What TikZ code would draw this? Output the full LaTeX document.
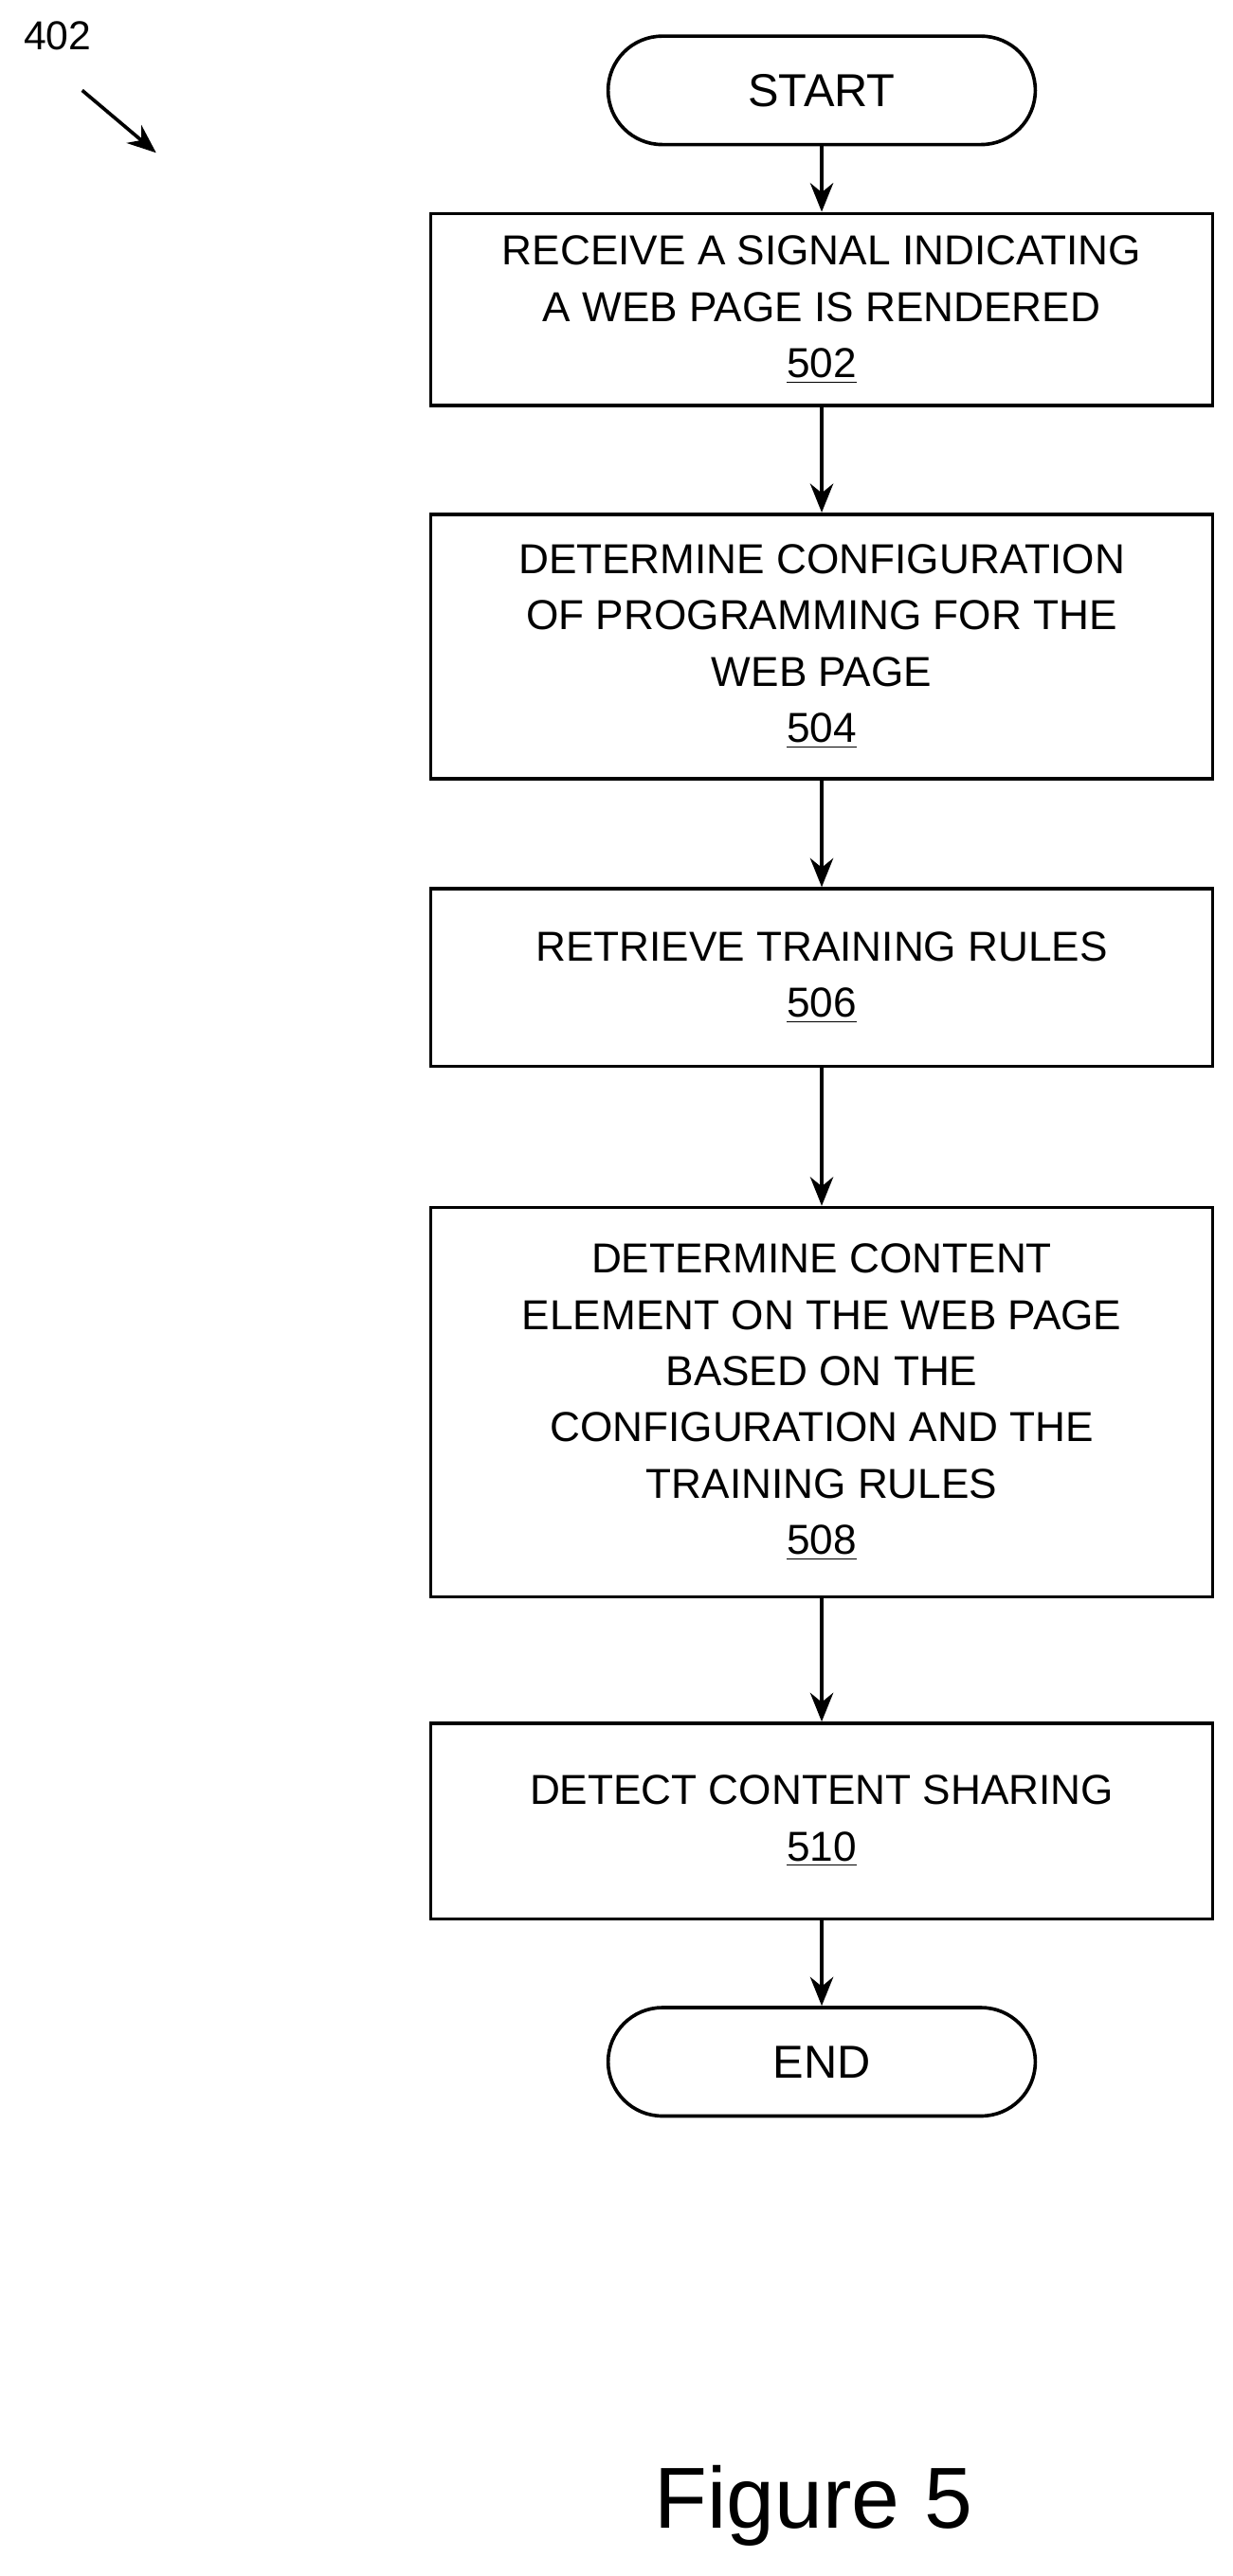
\documentclass[tikz,border=0pt]{standalone}
\usepackage{fontspec}
\setmainfont{Liberation Sans}
\usetikzlibrary{arrows.meta}
\begin{document}
\begin{tikzpicture}[x=0.02cm,y=-0.02cm,
  box/.style={draw,line width=1.2pt,align=center,font=\fontsize{14.5}{19.5}\selectfont,inner sep=0pt},
  term/.style={draw,line width=1.2pt,rounded corners=0.66cm,font=\fontsize{16}{19}\selectfont,inner sep=0pt},
  arr/.style={line width=1.2pt,-{Stealth[length=10pt,width=8pt]}}]
\useasboundingbox (0,0) rectangle (750,1568);
\node[term,minimum width=5.2cm,minimum height=1.32cm] (start) at (500,55) {START};
\node[box,minimum width=9.52cm,minimum height=2.34cm] (b502) at (500,188.5) {RECEIVE A SIGNAL INDICATING\\A WEB PAGE IS RENDERED\\\underline{502}};
\node[box,minimum width=9.52cm,minimum height=3.22cm] (b504) at (500,393.5) {DETERMINE CONFIGURATION\\OF PROGRAMMING FOR THE\\WEB PAGE\\\underline{504}};
\node[box,minimum width=9.52cm,minimum height=2.16cm] (b506) at (500,595) {RETRIEVE TRAINING RULES\\\underline{506}};
\node[box,minimum width=9.52cm,minimum height=4.74cm] (b508) at (500,853.5) {DETERMINE CONTENT\\ELEMENT ON THE WEB PAGE\\BASED ON THE\\CONFIGURATION AND THE\\TRAINING RULES\\\underline{508}};
\node[box,minimum width=9.52cm,minimum height=2.38cm] (b510) at (500,1108.5) {DETECT CONTENT SHARING\\\underline{510}};
\node[term,minimum width=5.2cm,minimum height=1.32cm] (end) at (500,1255) {END};
\draw[arr] (start) -- (b502);
\draw[arr] (b502) -- (b504);
\draw[arr] (b504) -- (b506);
\draw[arr] (b506) -- (b508);
\draw[arr] (b508) -- (b510);
\draw[arr] (b510) -- (end);
\node[font=\fontsize{14}{16}\selectfont] (lbl) at (35,22) {402};
\coordinate (a1) at (50,55);
\coordinate (a2) at (95,93);
\draw[arr] (a1) -- (a2);
\node[font=\fontsize{30}{34}\selectfont] (fig) at (495,1525) {Figure 5};
\end{tikzpicture}
\end{document}
